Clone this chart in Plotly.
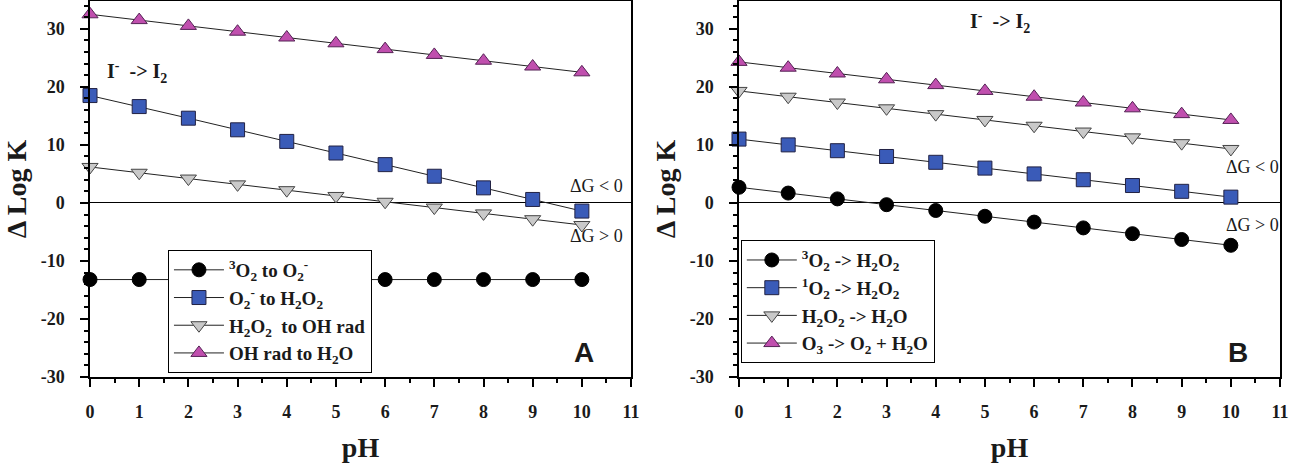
import plotly.graph_objects as go

ph = list(range(0, 11))

# panel A
a_o2_to_superoxide = [-13.2] * 11
a_superoxide_to_h2o2 = [18.5, 16.6, 14.6, 12.6, 10.6, 8.6, 6.6, 4.6, 2.6, 0.6, -1.4]
a_h2o2_to_oh = [6.2, 5.2, 4.2, 3.2, 2.2, 1.2, 0.2, -0.8, -1.8, -2.8, -3.8]
a_oh_to_h2o = [32.5, 31.5, 30.5, 29.5, 28.5, 27.5, 26.5, 25.5, 24.5, 23.5, 22.5]

# panel B
b_3o2_to_h2o2 = [2.7, 1.7, 0.7, -0.3, -1.3, -2.3, -3.3, -4.3, -5.3, -6.3, -7.3]
b_1o2_to_h2o2 = [11.0, 10.0, 9.0, 8.0, 7.0, 6.0, 5.0, 4.0, 3.0, 2.0, 1.0]
b_h2o2_to_h2o = [19.3, 18.3, 17.3, 16.3, 15.3, 14.3, 13.3, 12.3, 11.3, 10.3, 9.3]
b_o3_to_o2 = [24.3, 23.3, 22.3, 21.3, 20.3, 19.3, 18.3, 17.3, 16.3, 15.3, 14.3]

x_ticks = list(range(0, 12))
y_ticks = [-30, -20, -10, 0, 10, 20, 30]
y_ticklabels = ["-30", "-20", "-10", "0", "10", "20", "30"]

names_a = ["<sup>3</sup>O<sub>2</sub> to O<sub>2</sub><sup>-</sup>",
           "O<sub>2</sub><sup>-</sup> to H<sub>2</sub>O<sub>2</sub>",
           "H<sub>2</sub>O<sub>2</sub>  to OH rad",
           "OH rad to H<sub>2</sub>O"]
names_b = ["<sup>3</sup>O<sub>2</sub> -> H<sub>2</sub>O<sub>2</sub>",
           "<sup>1</sup>O<sub>2</sub> -> H<sub>2</sub>O<sub>2</sub>",
           "H<sub>2</sub>O<sub>2</sub> -> H<sub>2</sub>O",
           "O<sub>3</sub> -> O<sub>2</sub> + H<sub>2</sub>O"]

serif = "Liberation Serif"
ink = "#1a1a1a"

styles = [
    dict(symbol="circle", color="black", line=dict(color="black", width=1)),
    dict(symbol="square", color="#3a5bb8", line=dict(color="#222244", width=1)),
    dict(symbol="triangle-down", color="#c9c9c9", line=dict(color="#444444", width=1)),
    dict(symbol="triangle-up", color="#c04fae", line=dict(color="#552255", width=1)),
]

fig = go.Figure()

for ys, nm, st in zip([a_o2_to_superoxide, a_superoxide_to_h2o2, a_h2o2_to_oh, a_oh_to_h2o], names_a, styles):
    fig.add_trace(go.Scatter(x=ph, y=ys, name=nm, mode="lines+markers", cliponaxis=False,
                             line=dict(color="#222222", width=1),
                             marker=dict(size=14, **st),
                             xaxis="x", yaxis="y", legend="legend"))

for ys, nm, st in zip([b_3o2_to_h2o2, b_1o2_to_h2o2, b_h2o2_to_h2o, b_o3_to_o2], names_b, styles):
    fig.add_trace(go.Scatter(x=ph, y=ys, name=nm, mode="lines+markers", cliponaxis=False,
                             line=dict(color="#222222", width=1),
                             marker=dict(size=14, **st),
                             xaxis="x2", yaxis="y2", legend="legend2"))

tickfont = dict(family=serif, size=18, color=ink, weight="bold")
titlefont = dict(family=serif, size=28, color=ink, weight="bold")

def xax(domain, anchor):
    return dict(domain=domain, anchor=anchor, range=[0, 11], tickvals=x_ticks,
                automargin=False, ticklabeloverflow="allow",
                showline=True, linecolor="black", linewidth=1.5, mirror=True,
                ticks="outside", ticklen=8, tickwidth=1.5, tickcolor="black",
                ticklabelstandoff=10,
                minor=dict(ticks="outside", dtick=0.5, ticklen=4, tickcolor="black"),
                showgrid=False, zeroline=False, tickfont=tickfont,
                title=dict(text="pH", font=titlefont, standoff=16))

def yax(anchor):
    return dict(domain=[0.196, 0.998], anchor=anchor, range=[-30, 34.8],
                tickvals=y_ticks, ticktext=y_ticklabels, automargin=False,
                showline=True, linecolor="black", linewidth=1.5, mirror=True,
                ticks="outside", ticklen=8, tickwidth=1.5, tickcolor="black",
                ticklabelstandoff=12,
                minor=dict(ticks="outside", dtick=2, ticklen=4, tickcolor="black"),
                showgrid=False, zeroline=True, zerolinecolor="black", zerolinewidth=1,
                tickfont=tickfont,
                title=dict(text="Δ Log K", font=titlefont, standoff=6))

legend_style = dict(font=dict(family=serif, size=19, color=ink, weight="bold"), bgcolor="white",
                    bordercolor="black", borderwidth=1, xanchor="left", yanchor="top",
                    itemwidth=50, tracegroupgap=0)

fig.update_layout(
    width=1299, height=469,
    margin=dict(l=0, r=0, t=0, b=0),
    paper_bgcolor="white", plot_bgcolor="white",
    xaxis=xax([0.0693, 0.4858], "y"),
    yaxis=yax("x"),
    xaxis2=xax([0.5689, 0.9854], "y2"),
    yaxis2=yax("x2"),
    legend=dict(x=0.1293, y=0.467, **legend_style),
    legend2=dict(x=0.5703, y=0.488, **legend_style),
)

def note(text, x, y, ref, size=18, family=serif):
    fig.add_annotation(text=text, x=x, y=y, xref=ref[0], yref=ref[1], showarrow=False,
                       font=dict(family=family, size=size, color=ink))

note("<b>I<sup>-</sup>  -> I<sub>2</sub></b>", 0.95, 22.6, ("x", "y"), size=20)
note("<b>I<sup>-</sup>  -> I<sub>2</sub></b>", 5.3, 31.2, ("x2", "y2"), size=20)
note("ΔG < 0", 10.3, 2.9, ("x", "y"))
note("ΔG > 0", 10.3, -5.7, ("x", "y"))
note("ΔG < 0", 10.45, 6.2, ("x2", "y2"))
note("ΔG > 0", 10.45, -3.8, ("x2", "y2"))
note("<b>A</b>", 10.05, -25.7, ("x", "y"), size=28, family="Liberation Sans")
note("<b>B</b>", 10.15, -25.7, ("x2", "y2"), size=28, family="Liberation Sans")

# page body has a default 8px margin and may get a scrollbar; drop both
page_fix = ("document.body.style.margin='0';"
            "document.body.style.overflow='hidden';"
            "document.documentElement.style.overflow='hidden';")
fig.write_html("out.html", config={"displayModeBar": False}, post_script=page_fix)
